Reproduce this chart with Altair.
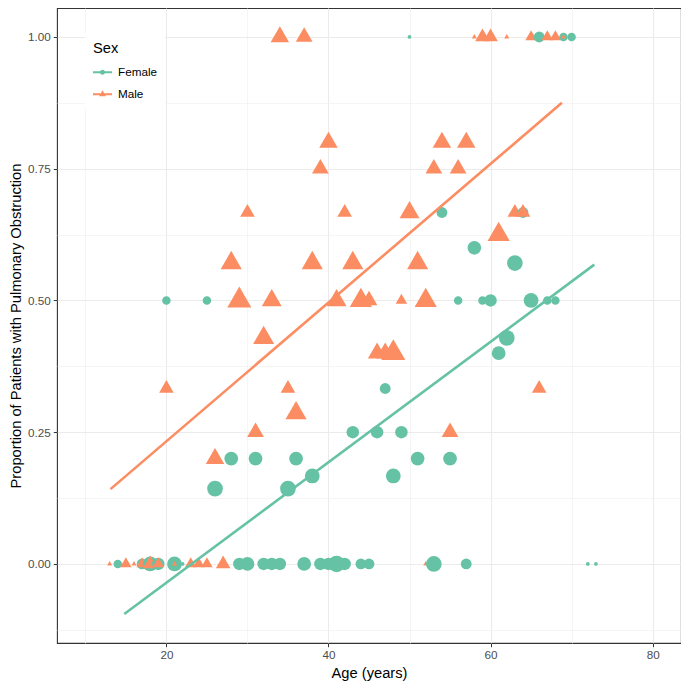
import altair as alt
import pandas as pd

# ---------------- data ----------------
sexes = ["Female", "Male"]
colors = ["#66C2A5", "#FC8D62"]

female_age = [14, 17, 18, 19, 21, 22, 29, 30, 32, 33, 34, 37, 39, 40, 41, 42, 44, 45, 53, 57, 72, 73,
              26, 35, 38, 48, 28, 31, 36, 51, 55, 43, 46, 49, 47, 61, 62,
              20, 25, 56, 59, 60, 65, 67, 68, 63, 58, 54, 64, 50, 66, 69, 70]
female_prop = [0, 0, 0, 0, 0, 0, 0, 0, 0, 0, 0, 0, 0, 0, 0, 0, 0, 0, 0, 0, 0, 0,
               0.143, 0.143, 0.167, 0.167, 0.2, 0.2, 0.2, 0.2, 0.2, 0.25, 0.25, 0.25, 0.333, 0.4, 0.429,
               0.5, 0.5, 0.5, 0.5, 0.5, 0.5, 0.5, 0.5, 0.571, 0.6, 0.667, 0.667, 1, 1, 1, 1]
female_n = [2, 3, 6, 4, 6, 1, 4, 5, 4, 4, 4, 5, 4, 4, 8, 4, 3, 3, 7, 3, 1, 1,
            7, 7, 6, 6, 5, 5, 5, 5, 5, 4, 4, 4, 3, 5, 7,
            2, 2, 2, 2, 4, 6, 2, 2, 7, 5, 3, 3, 1, 3, 2, 2]

male_age = [13, 15, 16, 17, 18, 19, 21, 23, 24, 25, 27, 52,
            26, 31, 55, 36, 20, 35, 66, 46, 47, 48, 32,
            29, 33, 41, 44, 45, 49, 52, 28, 38, 43, 51, 61,
            30, 42, 50, 63, 64, 39, 53, 56, 40, 54, 57,
            34, 37, 58, 59, 60, 62, 65, 67, 68, 69]
male_prop = [0, 0, 0, 0, 0, 0, 0, 0, 0, 0, 0, 0,
             0.2, 0.25, 0.25, 0.286, 0.333, 0.333, 0.333, 0.4, 0.4, 0.4, 0.429,
             0.5, 0.5, 0.5, 0.5, 0.5, 0.5, 0.5, 0.571, 0.571, 0.571, 0.571, 0.625,
             0.667, 0.667, 0.667, 0.667, 0.667, 0.75, 0.75, 0.75, 0.8, 0.8, 0.8,
             1, 1, 1, 1, 1, 1, 1, 1, 1, 1]
male_n = [1, 2, 1, 2, 3, 2, 1, 2, 2, 2, 3, 1,
          5, 4, 4, 7, 3, 3, 3, 5, 5, 10, 7,
          10, 6, 6, 8, 4, 2, 8, 7, 7, 7, 7, 8,
          3, 3, 6, 3, 3, 4, 4, 4, 5, 5, 5,
          5, 4, 1, 3, 3, 1, 2, 2, 2, 1]

# fitted lines (end points)
line_sex = ["Female", "Female", "Male", "Male"]
line_age = [14.8, 72.8, 13.1, 68.8]
line_prop = [-0.095, 0.568, 0.142, 0.875]

x_ticks = [20, 40, 60, 80]
x_minor = [10, 30, 50, 70]
y_ticks = [0, 0.25, 0.5, 0.75, 1.0]
y_minor = [-0.125, 0.125, 0.375, 0.625, 0.875]

# ---------------- tables ----------------
pts = pd.concat([
    pd.DataFrame({"sex": "Female", "age": female_age, "prop": female_prop, "n": female_n}),
    pd.DataFrame({"sex": "Male", "age": male_age, "prop": male_prop, "n": male_n}),
], ignore_index=True).sort_values("age", kind="stable").reset_index(drop=True)
lines_df = pd.DataFrame({"sex": line_sex, "age": line_age, "prop": line_prop})

FONT = "Liberation Sans"
TRI = "M0,-1.555L1.347,0.778L-1.347,0.778Z"
LEG_F = ("M-1,-0.1L1,-0.1L1,0.1L-1,0.1Z"
         "M0.27,0A0.27,0.27,0,1,1,-0.27,0A0.27,0.27,0,1,1,0.27,0Z")
LEG_M = ("M-1,-0.1L1,-0.1L1,0.1L-1,0.1Z"
         "M0,-0.42L0.36,0.21L-0.36,0.21Z")

xs = alt.Scale(domain=[6.5, 83.5], nice=False, zero=False)
ys = alt.Scale(domain=[-0.150, 1.055], nice=False, zero=False)
cscale = alt.Scale(domain=sexes, range=colors)
sscale = alt.Scale(type="sqrt", domain=[1, 10], range=[14, 319], zero=False)

points = alt.Chart(pts).mark_point(filled=True, opacity=1, strokeWidth=0).encode(
    x=alt.X("age:Q", scale=xs, axis=alt.Axis(
        values=x_ticks, format="d", title="Age (years)", orient="bottom",
        grid=True, gridColor="#EBEBEB", gridWidth=1.1)),
    y=alt.Y("prop:Q", scale=ys, axis=alt.Axis(
        values=y_ticks, format=".2f", orient="left",
        title="Proportion of Patients with Pulmonary Obstruction",
        grid=True, gridColor="#EBEBEB", gridWidth=1.1)),
    color=alt.Color("sex:N", scale=cscale, legend=None),
    shape=alt.Shape("sex:N", scale=alt.Scale(domain=sexes, range=["circle", TRI]), legend=None),
    size=alt.Size("n:Q", scale=sscale, legend=None),
)

lines = alt.Chart(lines_df).mark_line(strokeWidth=2.6).encode(
    x=alt.X("age:Q", scale=xs, axis=alt.Axis(
        values=x_minor, orient="bottom", title=None, labels=False, ticks=False,
        domain=False, grid=True, gridColor="#F0F0F0", gridWidth=0.7)),
    y=alt.Y("prop:Q", scale=ys, axis=alt.Axis(
        values=y_minor, orient="left", title=None, labels=False, ticks=False,
        domain=False, grid=True, gridColor="#F0F0F0", gridWidth=0.7)),
    color=alt.Color("sex:N", scale=cscale, legend=None),
)

legend_def = alt.Legend(
    title="Sex", orient="none", legendX=28, legendY=25,
    fillColor="white", padding=8,
    titleFont=FONT, titleFontSize=14.7, titleFontWeight="normal", titleColor="black",
    titlePadding=7,
    labelFont=FONT, labelFontSize=11.7, labelColor="black", labelOffset=6,
    symbolSize=361, rowPadding=5, symbolStrokeWidth=0,
)

legend_layer = alt.Chart(pts).transform_filter("false").mark_point(
    filled=True, opacity=1).encode(
    color=alt.Color("sex:N", scale=cscale, legend=legend_def),
    shape=alt.Shape("sex:N", scale=alt.Scale(domain=sexes, range=[LEG_F, LEG_M]), legend=legend_def),
)

chart = alt.layer(points, lines, legend_layer).resolve_scale(
    color="independent", shape="independent"
).resolve_axis(
    x="independent", y="independent"
).properties(
    width=673, height=673,
    autosize=alt.AutoSizeParams(type="fit", contains="padding"),
    padding=0,
).configure_view(
    stroke="#333333", strokeWidth=1.1
).configure_axis(
    domain=False,
    tickColor="#333333", tickSize=3.7, tickWidth=1,
    labelColor="#4D4D4D", labelFont=FONT, labelFontSize=11.7, labelPadding=3,
    titleFont=FONT, titleFontSize=14.7, titleFontWeight="normal", titleColor="black",
    titlePadding=4,
)

chart.save("out.html", embed_options={"renderer": "svg", "actions": False})
